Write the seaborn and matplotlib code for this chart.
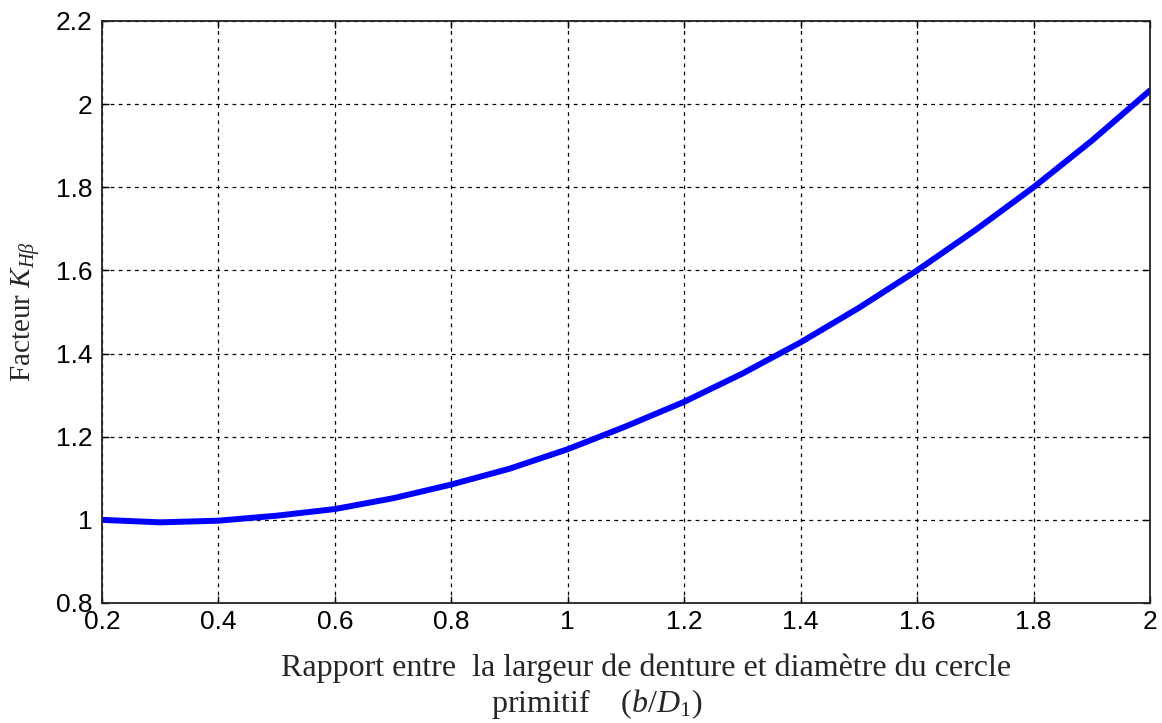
import numpy as np
import pandas as pd
import seaborn as sns
import matplotlib.pyplot as plt

# Values
ratio = [0.2, 0.3, 0.4, 0.5, 0.6, 0.7, 0.8, 0.9, 1.0, 1.1,
         1.2, 1.3, 1.4, 1.5, 1.6, 1.7, 1.8, 1.9, 2.0]
factor = [1.000, 0.994, 0.998, 1.010, 1.026, 1.052, 1.085, 1.123, 1.170, 1.225,
          1.284, 1.352, 1.427, 1.510, 1.600, 1.697, 1.800, 1.912, 2.033]

x_ticks = [0.2, 0.4, 0.6, 0.8, 1, 1.2, 1.4, 1.6, 1.8, 2]
y_ticks = [0.8, 1, 1.2, 1.4, 1.6, 1.8, 2, 2.2]

df = pd.DataFrame({'ratio': ratio, 'factor': factor})

sns.set_style("ticks")
plt.rcParams['font.family'] = ['Liberation Sans', 'DejaVu Sans']
plt.rcParams['mathtext.fontset'] = 'custom'
plt.rcParams['mathtext.rm'] = 'Liberation Serif'
plt.rcParams['mathtext.it'] = 'Liberation Serif:italic'
plt.rcParams['mathtext.bf'] = 'Liberation Serif:bold'

fig = plt.figure(figsize=(11.62, 7.23), dpi=100)
ax = fig.add_axes([102 / 1162, 1 - 603 / 723, 1048 / 1162, 582 / 723])

sns.lineplot(data=df, x='ratio', y='factor', ax=ax, color='#0000ff', linewidth=4.3)

ax.set_xlim(0.2, 2)
ax.set_ylim(0.8, 2.2)
ax.set_xticks(x_ticks)
ax.set_yticks(y_ticks)
ax.set_xticklabels([f'{t:g}' for t in x_ticks])
ax.set_yticklabels([f'{t:g}' for t in y_ticks])
ax.tick_params(direction='in', length=5, labelsize=19, top=True, right=True,
               colors='black', width=1)
ax.tick_params(axis='x', pad=5)
ax.tick_params(axis='y', pad=7)
ax.grid(True, color='black', linestyle=(0, (3, 3.5)), linewidth=0.9)
for sp in ax.spines.values():
    sp.set_color('#222222')
    sp.set_linewidth(1.3)

ax.set_xlabel('Rapport entre  la largeur de denture et diamètre du cercle\n'
              r'primitif    $(b/D_{\mathit{1}})$' + ' ' * 13,
              fontfamily='Liberation Serif', fontsize=23, linespacing=1.15)
ax.xaxis.set_label_coords(0.519, -0.087)
ax.set_ylabel(r'Facteur $K_{H\beta}$', fontfamily='Liberation Serif',
              fontsize=21)
ax.yaxis.set_label_coords(-0.057, 0.50)

fig.savefig('out.png', dpi=100, facecolor='white')
